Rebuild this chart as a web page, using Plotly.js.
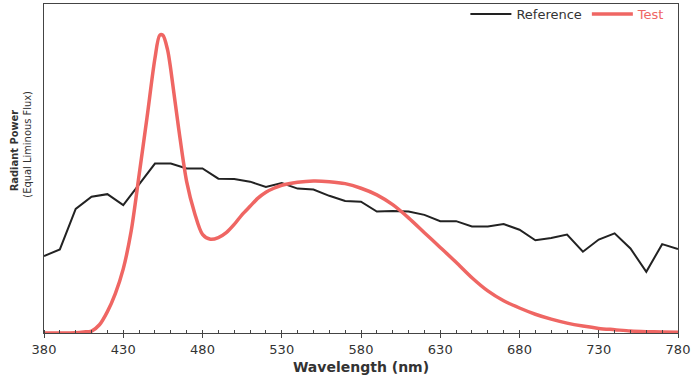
<!DOCTYPE html>
<html>
<head>
<meta charset="utf-8">
<script src="https://cdn.plot.ly/plotly-3.0.1.min.js"></script>
<style>html,body{margin:0;padding:0;background:#fff;}#chart{width:691px;height:383px;}</style>
</head>
<body>
<div id="chart"></div>
<script>
// Reference spectrum (10 nm steps)
const refWavelength = [380,390,400,410,420,430,440,450,460,470,480,490,500,510,520,530,540,550,560,570,580,590,600,610,620,630,640,650,660,670,680,690,700,710,720,730,740,750,760,770,780];
const refPower = [0.234,0.254,0.377,0.414,0.422,0.389,0.452,0.515,0.515,0.500,0.500,0.469,0.468,0.460,0.444,0.456,0.439,0.436,0.417,0.401,0.399,0.369,0.371,0.369,0.359,0.340,0.340,0.324,0.324,0.331,0.314,0.282,0.289,0.299,0.247,0.284,0.303,0.257,0.186,0.270,0.255];

// Test spectrum
const testWavelength = [380,390,400,405,410,415,420,425,430,435,440,445,450,453,455,458,460,465,470,475,480,485,490,495,500,505,510,515,520,525,530,540,550,560,570,580,590,600,610,620,630,640,650,660,670,680,690,700,710,720,730,740,750,760,770,780];
const testPower = [0.000,0.000,0.001,0.003,0.006,0.025,0.065,0.120,0.195,0.310,0.480,0.655,0.835,0.905,0.905,0.860,0.800,0.620,0.460,0.365,0.300,0.285,0.290,0.305,0.330,0.360,0.385,0.410,0.428,0.440,0.449,0.458,0.462,0.460,0.454,0.440,0.420,0.390,0.350,0.305,0.260,0.215,0.168,0.128,0.098,0.076,0.057,0.042,0.030,0.021,0.014,0.010,0.006,0.004,0.003,0.002];

const xTickStart = 380;
const seriesNames = ['Reference', 'Test'];

const font = 'DejaVu Sans, Verdana, sans-serif';
const condFont = 'DejaVu Sans Condensed, Liberation Sans Narrow, DejaVu Sans, sans-serif';
const red = '#ef6663';

const traces = [
  {x: refWavelength, y: refPower, type: 'scatter', mode: 'lines', name: seriesNames[0],
   line: {color: '#222222', width: 2}},
  {x: testWavelength, y: testPower, type: 'scatter', mode: 'lines', name: '<span style="color:' + red + '">' + seriesNames[1] + '</span>',
   line: {color: red, width: 3.5, shape: 'spline', smoothing: 0.8}}
];

const layout = {
  width: 691, height: 383,
  margin: {l: 44, r: 13, t: 4, b: 50, autoexpand: false},
  paper_bgcolor: '#ffffff', plot_bgcolor: '#ffffff',
  font: {family: font, size: 13, color: '#333333'},
  showlegend: true,
  legend: {orientation: 'h', x: 0.988, xanchor: 'right', y: 1.015, yanchor: 'top',
           bgcolor: 'rgba(0,0,0,0)', font: {family: font, size: 13, color: '#333333'},
           itemwidth: 41, tracegroupgap: 0},
  xaxis: {
    range: [380, 780], tick0: xTickStart, dtick: 50, tickmode: 'linear',
    showgrid: false, zeroline: false, showline: true, linecolor: '#444', linewidth: 1, mirror: true,
    ticks: 'outside', ticklen: 4, tickcolor: '#444',
    minor: {dtick: 10, ticks: 'inside', ticklen: 3, tickcolor: '#444', showgrid: false},
    tickfont: {family: font, size: 13, color: '#333'},
    title: {text: '<b>Wavelength (nm)</b>', font: {family: font, size: 14, color: '#333'}, standoff: 6}
  },
  yaxis: {
    range: [0, 1], showticklabels: false, ticks: '', showgrid: false, zeroline: false,
    showline: true, linecolor: '#444', linewidth: 1, mirror: true
  },
  annotations: [
    {text: '<b>Radiant Power</b>', xref: 'paper', yref: 'paper', x: -0.047, y: 0.556, xanchor: 'center', yanchor: 'middle',
     textangle: -90, showarrow: false, font: {family: condFont, size: 11, color: '#333'}},
    {text: '(Equal Liminous Flux)', xref: 'paper', yref: 'paper', x: -0.026, y: 0.574, xanchor: 'center', yanchor: 'middle',
     textangle: -90, showarrow: false, font: {family: condFont, size: 11, color: '#333'}}
  ]
};

Plotly.newPlot('chart', traces, layout, {displayModeBar: false, staticPlot: true});
</script>
</body>
</html>
